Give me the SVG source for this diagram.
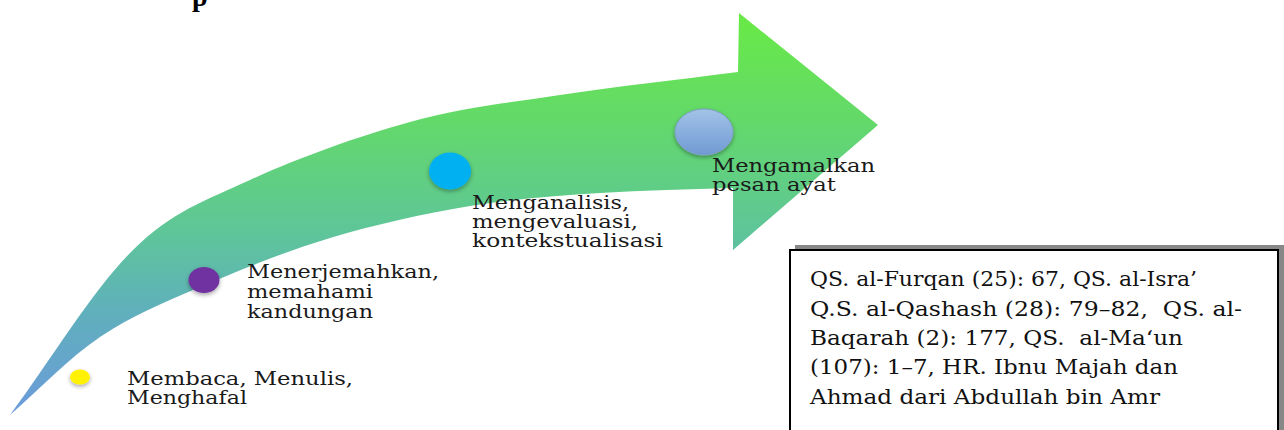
<svg xmlns="http://www.w3.org/2000/svg" width="1284" height="430" viewBox="0 0 1284 430">
<style>
.lbl{font-family:"DejaVu Serif","Liberation Serif",serif;font-size:18px;fill:#1a1a1a;white-space:pre}
.box{font-family:"DejaVu Serif","Liberation Serif",serif;font-size:20px;fill:#111;white-space:pre}
</style>
<defs>
<linearGradient id="arrowGrad" gradientUnits="userSpaceOnUse" x1="0" y1="415" x2="0" y2="13">
<stop offset="0" stop-color="#6c9bdb"/>
<stop offset="0.25" stop-color="#60afbd"/>
<stop offset="0.45" stop-color="#5ec59a"/>
<stop offset="0.72" stop-color="#63d86c"/>
<stop offset="1" stop-color="#69ea45"/>
</linearGradient>
<linearGradient id="blueGrad" x1="0" y1="0" x2="0" y2="1">
<stop offset="0" stop-color="#a3c3e8"/>
<stop offset="1" stop-color="#6f9ad2"/>
</linearGradient>
<filter id="sh" x="-50%" y="-50%" width="200%" height="200%">
<feDropShadow dx="0" dy="2" stdDeviation="2" flood-color="#000" flood-opacity="0.35"/>
</filter>
</defs>

<g id="heading-fragment">
<text x="192" y="6" style="font-family:'Liberation Serif',serif;font-weight:bold;font-size:28px;fill:#000">p</text>
</g>

<g id="arrow">
<path d="M10,415 C51,360 93,289.2 133,250 C173,210.8 203.8,201.3 250,180 C296.2,158.7 358.3,136.2 410,122 C461.7,107.8 505.3,103.3 560,95 C614.7,86.7 678.7,79.7 738,72 L739,13 L878,125 L733,250 L733,188 C688.7,189.7 643.8,190 600,193 C556.2,196 515,198.5 470,206 C425,213.5 375,224.5 330,238 C285,251.5 238.3,270.5 200,287 C161.7,303.5 131.7,315.7 100,337 C68.3,358.3 40,389 10,415 Z" fill="url(#arrowGrad)"/>
</g>

<g id="step1">
<ellipse cx="80" cy="377" rx="10" ry="7.5" fill="#fff200" filter="url(#sh)"/>
<text class="lbl" x="127" y="385" textLength="226" lengthAdjust="spacingAndGlyphs">Membaca, Menulis,</text>
<text class="lbl" x="127" y="404" textLength="120" lengthAdjust="spacingAndGlyphs">Menghafal</text>
</g>

<g id="step2">
<ellipse cx="204" cy="280" rx="15.5" ry="13" fill="#7030a0" filter="url(#sh)"/>
<text class="lbl" x="247" y="278" textLength="192" lengthAdjust="spacingAndGlyphs">Menerjemahkan,</text>
<text class="lbl" x="247" y="298" textLength="126" lengthAdjust="spacingAndGlyphs">memahami</text>
<text class="lbl" x="247" y="318" textLength="126" lengthAdjust="spacingAndGlyphs">kandungan</text>
</g>

<g id="step3">
<ellipse cx="450" cy="171" rx="21" ry="18.5" fill="#00b0f0" filter="url(#sh)"/>
<text class="lbl" x="472" y="209" textLength="157" lengthAdjust="spacingAndGlyphs">Menganalisis,</text>
<text class="lbl" x="472" y="228" textLength="166" lengthAdjust="spacingAndGlyphs">mengevaluasi,</text>
<text class="lbl" x="472" y="247" textLength="191" lengthAdjust="spacingAndGlyphs">kontekstualisasi</text>
</g>

<g id="step4">
<ellipse cx="704" cy="132" rx="29" ry="23" fill="url(#blueGrad)" stroke="#7f9fc8" stroke-width="1" filter="url(#sh)"/>
<text class="lbl" x="712" y="172" textLength="163" lengthAdjust="spacingAndGlyphs">Mengamalkan</text>
<text class="lbl" x="712" y="191" textLength="124" lengthAdjust="spacingAndGlyphs">pesan ayat</text>
</g>

<g id="reference-box">
<rect x="795" y="245" width="489" height="190" fill="#888"/>
<rect x="790" y="250" width="488" height="190" fill="#fff" stroke="#000" stroke-width="2"/>
<text class="box" x="810" y="286" textLength="387" lengthAdjust="spacingAndGlyphs">QS. al-Furqan (25): 67, QS. al-Isra’</text>
<text class="box" x="810" y="316" textLength="432" lengthAdjust="spacingAndGlyphs">Q.S. al-Qashash (28): 79–82,  QS. al-</text>
<text class="box" x="810" y="345" textLength="373" lengthAdjust="spacingAndGlyphs">Baqarah (2): 177, QS.  al-Ma‘un</text>
<text class="box" x="810" y="374" textLength="368" lengthAdjust="spacingAndGlyphs">(107): 1–7, HR. Ibnu Majah dan</text>
<text class="box" x="810" y="404" textLength="350" lengthAdjust="spacingAndGlyphs">Ahmad dari Abdullah bin Amr</text>
</g>
</svg>
